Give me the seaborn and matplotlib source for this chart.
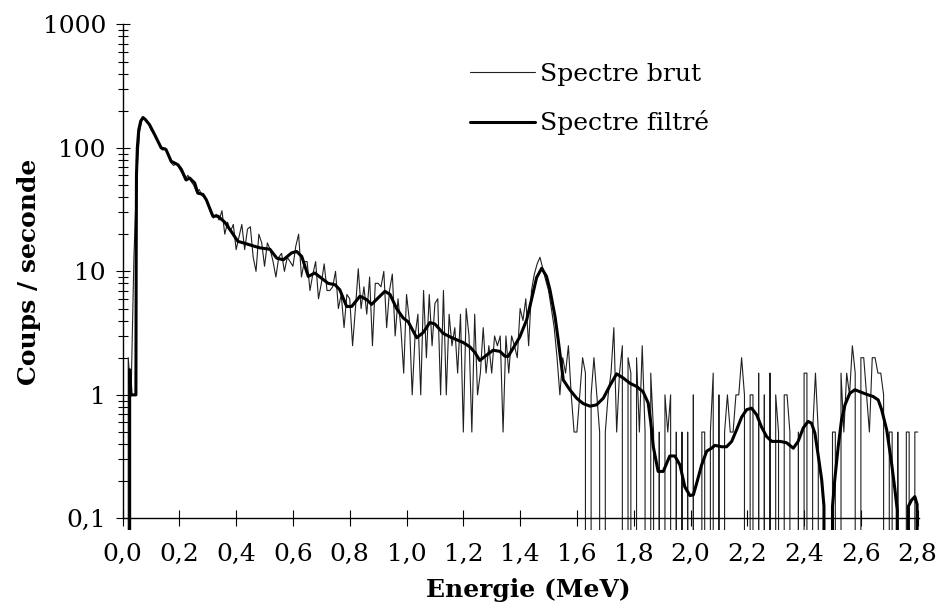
import numpy as np
import pandas as pd
import matplotlib
matplotlib.use("Agg")
import matplotlib.pyplot as plt
import seaborn as sns
from matplotlib.ticker import FixedLocator, NullFormatter

# --- Raw spectrum : one value per 0.01 MeV channel (counts / s) ---
spectre_brut = [
    0, 0, 2.0, 1.0, 13, 60, 135, 175, 170, 160,          # 0.0x
    140, 130, 118, 108, 96, 100, 88, 76, 72, 75,         # 0.1x
    68, 62, 55, 60, 54, 50, 44, 46, 41, 40,              # 0.2x
    35, 30, 27, 29, 26, 31, 20, 25, 21, 24,              # 0.3x
    15, 19, 24, 15, 22, 23, 13, 10, 20, 17,              # 0.4x
    11, 17, 15, 12, 9, 13, 14, 10, 13, 12,               # 0.5x
    11, 16, 20, 9, 12, 12, 7, 9.5, 12, 6,                # 0.6x
    8, 11.5, 7, 7, 7.5, 10, 5, 6.5, 3.5, 6.5,            # 0.7x
    6, 2.5, 5, 10.5, 5, 7.5, 4.5, 9, 2.5, 8,             # 0.8x
    8, 7.5, 10, 3.5, 7, 9.5, 3, 6, 3.5, 1.5,             # 0.9x
    6.5, 4, 1, 3, 4.5, 1, 7, 2, 6.5, 2.5,                # 1.0x
    5.5, 6, 1, 7, 1, 4.5, 2.5, 3.5, 1.5, 4.5,            # 1.1x
    0.5, 5, 3, 0.5, 4.5, 1, 1.5, 3.5, 1.5, 2.5,          # 1.2x
    1.5, 3, 2.5, 3, 0.5, 3, 1.5, 3, 2.5, 2,              # 1.3x
    5, 4, 6, 2.5, 7, 9.5, 11.5, 13, 10.5, 8.5,           # 1.4x
    7, 5, 3.5, 2, 1, 2, 1.5, 2.5, 1, 0.5,                # 1.5x
    0.5, 1, 2, 1.5, 0, 1, 2, 1, 0.5, 0,                  # 1.6x
    0.5, 1, 1.5, 3.5, 0.5, 1.5, 2.5, 0, 2, 1.5,          # 1.7x
    0, 2, 0.5, 2.5, 0.5, 0, 1.5, 0.5, 0, 0.5,            # 1.8x
    0, 1, 0.5, 1, 0, 0.5, 0, 0.5, 0, 0.5,                # 1.9x
    0, 1, 0, 0, 0.5, 0.5, 0, 0.5, 1.5, 0,                # 2.0x
    1, 0, 0.5, 1, 0.5, 0.5, 1, 1, 2, 1,                  # 2.1x
    0, 1, 1, 0, 1.5, 0, 1, 0, 1.5, 0,                    # 2.2x
    1, 0.5, 0, 1, 1, 0.5, 0, 0, 0.5, 0,                  # 2.3x
    1.5, 1.5, 0, 0.5, 1.5, 0.5, 0, 0, 0, 0,              # 2.4x
    0.5, 0.5, 0, 1.5, 0.5, 1.5, 1, 2.5, 1.5, 0,          # 2.5x
    2, 2, 1, 0.5, 2, 2, 1.5, 1.5, 1, 0,                  # 2.6x
    0.5, 0.5, 0, 0.5, 0, 0, 0.5, 0.5, 0, 0.5,            # 2.7x
    0.5,                                                 # 2.80
]
energie_brut = np.round(np.arange(len(spectre_brut)) * 0.01, 2)

# --- Filtered spectrum, points ---
energie_filtre = [
    0.022, 0.025, 0.030, 0.047, 0.048, 0.049, 0.052, 0.057, 0.064, 0.072,
    0.080, 0.095, 0.113, 0.136, 0.153, 0.171, 0.195, 0.207, 0.224, 0.236,
    0.254, 0.265, 0.283, 0.295, 0.318, 0.336, 0.360, 0.383, 0.406, 0.430,
    0.455, 0.484, 0.519, 0.543, 0.566, 0.595, 0.613, 0.631, 0.654, 0.677,
    0.701, 0.724, 0.748, 0.765, 0.789, 0.807, 0.836, 0.860, 0.877, 0.900,
    0.924, 0.942, 0.965, 0.988, 1.006, 1.036, 1.059, 1.082, 1.100, 1.129,
    1.153, 1.176, 1.200, 1.223, 1.241, 1.258, 1.282, 1.305, 1.329, 1.347,
    1.358, 1.376, 1.399, 1.423, 1.440, 1.458, 1.476, 1.493, 1.505, 1.523,
    1.534, 1.546, 1.552, 1.575, 1.599, 1.622, 1.646, 1.669, 1.693, 1.717,
    1.740, 1.763, 1.787, 1.810, 1.833, 1.851, 1.860, 1.869, 1.886, 1.904,
    1.927, 1.945, 1.963, 1.980, 1.998, 2.010, 2.021, 2.039, 2.057, 2.074,
    2.086, 2.110, 2.127, 2.145, 2.162, 2.180, 2.198, 2.215, 2.233, 2.250,
    2.268, 2.286, 2.315, 2.338, 2.362, 2.379, 2.397, 2.414, 2.426, 2.438,
    2.450, 2.462, 2.470, 2.475, 2.495, 2.500, 2.508, 2.520, 2.532, 2.544,
    2.561, 2.579, 2.597, 2.620, 2.643, 2.661, 2.673, 2.691, 2.708, 2.720,
    2.728, 2.735, 2.760, 2.767, 2.778, 2.790, 2.798, 2.805,
]
spectre_filtre = [
    0, 1.6, 1.0, 1.0, 13, 60, 100, 140, 165, 176,
    170, 154, 128, 100, 97, 78, 73, 67, 55, 57,
    52, 43, 42, 38, 28, 28, 25, 21, 17.5, 16.9,
    16.2, 15.5, 15.1, 12.8, 12.4, 14.1, 14.5, 13.2, 9.1, 9.7,
    8.8, 8.0, 7.8, 7.1, 5.2, 5.2, 6.3, 5.9, 5.4, 6.1,
    6.9, 6.5, 5.0, 4.2, 3.9, 2.9, 3.2, 3.85, 3.75, 3.15,
    2.95, 2.8, 2.65, 2.45, 2.2, 1.9, 2.1, 2.3, 2.25, 2.05,
    2.05, 2.4, 2.95, 4.05, 5.9, 8.9, 10.6, 9.1, 7.1, 4.3,
    2.8, 1.7, 1.32, 1.1, 0.94, 0.85, 0.81, 0.83, 0.94, 1.2,
    1.48, 1.37, 1.24, 1.17, 1.06, 0.86, 0.6, 0.38, 0.24, 0.24,
    0.32, 0.32, 0.27, 0.18, 0.153, 0.155, 0.19, 0.27, 0.35, 0.37,
    0.39, 0.38, 0.38, 0.42, 0.52, 0.66, 0.76, 0.78, 0.69, 0.55,
    0.46, 0.42, 0.42, 0.41, 0.37, 0.42, 0.54, 0.61, 0.59, 0.49,
    0.32, 0.205, 0.125, 0, 0, 0.125, 0.205, 0.38, 0.63, 0.83,
    1.03, 1.1, 1.06, 1.01, 0.97, 0.91, 0.76, 0.52, 0.28, 0.17,
    0.117, 0, 0, 0.125, 0.14, 0.15, 0.13, 0,
]

x_ticks = [0.0, 0.2, 0.4, 0.6, 0.8, 1.0, 1.2, 1.4, 1.6, 1.8, 2.0, 2.2, 2.4, 2.6, 2.8]
x_labels = ["0,0", "0,2", "0,4", "0,6", "0,8", "1,0", "1,2", "1,4",
            "1,6", "1,8", "2,0", "2,2", "2,4", "2,6", "2,8"]
y_ticks = [0.1, 1, 10, 100, 1000]
y_labels = ["0,1", "1", "10", "100", "1000"]

sns.set_theme(style="white")
plt.rcParams["font.family"] = ["DejaVu Serif"]
plt.rcParams["text.color"] = "black"
plt.rcParams["axes.labelcolor"] = "black"

fig = plt.figure(figsize=(9.42, 6.14), dpi=100)
ax = fig.add_axes([0.1301, 0.1368, 0.8471, 0.8235])

brut_df = pd.DataFrame({"Energie": energie_brut, "Coups": spectre_brut})
filtre_df = pd.DataFrame({"Energie": energie_filtre, "Coups": spectre_filtre})

sns.lineplot(data=brut_df, x="Energie", y="Coups", estimator=None, sort=False,
             color="#202020", linewidth=0.8, label="Spectre brut", ax=ax)
sns.lineplot(data=filtre_df, x="Energie", y="Coups", estimator=None, sort=False,
             color="black", linewidth=2.2, label="Spectre filtré", ax=ax)

ax.set_yscale("log", nonpositive="clip")
ax.set_xlim(0, 2.81)
ax.set_ylim(0.0805, 1000)

# --- axes in the Excel way: x axis crossing at 0.1 ---
for side in ["top", "right"]:
    ax.spines[side].set_visible(False)
for side in ["left", "bottom"]:
    ax.spines[side].set_color("black")
    ax.spines[side].set_linewidth(1.0)
ax.spines["bottom"].set_position(("data", 0.1))
ax.spines["bottom"].set_bounds(0, 2.805)
ax.spines["left"].set_bounds(0.1, 1000)

ax.xaxis.set_major_locator(FixedLocator(x_ticks))
ax.set_xticklabels(x_labels)
ax.yaxis.set_major_locator(FixedLocator(y_ticks))
ax.set_yticklabels(y_labels)
minor = [m * 10.0 ** k for k in range(-1, 3) for m in range(2, 10)]
ax.yaxis.set_minor_locator(FixedLocator(minor))
ax.yaxis.set_minor_formatter(NullFormatter())

ax.tick_params(axis="x", which="major", bottom=True, direction="inout", length=12,
               width=0.8, color="black", labelsize=18, labelcolor="black", pad=12)
ax.tick_params(axis="y", which="major", left=True, direction="inout", length=10,
               width=0.8, color="black", labelsize=18, labelcolor="black", pad=7)
ax.tick_params(axis="y", which="minor", left=True, direction="inout", length=7,
               width=0.8, color="black")

ax.set_xlabel("Energie (MeV)", fontsize=18, fontweight="bold")
ax.set_ylabel("Coups / seconde", fontsize=18, fontweight="bold")
ax.xaxis.set_label_coords(0.508, -0.095)
ax.yaxis.set_label_coords(-0.102, 0.51)

ax.legend(loc="upper left", bbox_to_anchor=(0.499, 0.897), bbox_transform=fig.transFigure,
          frameon=False, borderpad=0, borderaxespad=0, fontsize=18,
          handlelength=2.6, handletextpad=0.2, labelspacing=0.97)

fig.savefig("out.png", dpi=100)
plt.close(fig)
